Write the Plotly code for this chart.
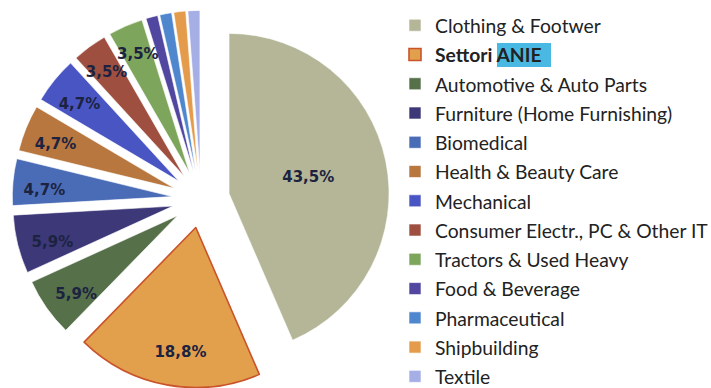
import plotly.graph_objects as go

# Sector shares (%) in slice order, clockwise from 12 o'clock
labels = [
    "Clothing & Footwer",
    "Settori ANIE",
    "Automotive & Auto Parts",
    "Furniture (Home Furnishing)",
    "Biomedical",
    "Health & Beauty Care",
    "Mechanical",
    "Consumer Electr., PC & Other IT",
    "Tractors & Used Heavy",
    "Food & Beverage",
    "Pharmaceutical",
    "Shipbuilding",
    "Textile",
]
values = [43.5, 18.8, 5.9, 5.9, 4.7, 4.7, 4.7, 3.5, 3.5, 1.2, 1.2, 1.2, 1.2]

colors = [
    "#b4b697", "#e3a04c", "#56704a", "#3d3878", "#4a6cb6", "#b8773e",
    "#4a55c4", "#9e4f40", "#7ea55c", "#5146a0", "#4f87cf", "#e49c4c", "#a6aee6",
]

W, H = 711, 388
ANIE = 1                # highlighted slice index

pct_text = [f"{v:.1f}%".replace(".", ",") for v in values]
clear = ["rgba(0,0,0,0)"] * len(values)
label_font = dict(family="DejaVu Sans", size=15, color="#1c2340", weight="bold")


def domain_for(cx, cy, radius, max_pull):
    """Domain box (paper units) of a pie centred at (cx, cy) px with given radius."""
    ext = radius * (1 + max_pull)
    return dict(
        x=[max(0, (cx - ext - 10) / W), (cx + ext + 10) / W],
        y=[max(0, 1 - (cy + ext) / H), min(1, 1 - (cy - ext) / H)],
    )


def pie(cx, cy, radius, pulls, text, marker_colors, line_colors, line_widths, **kw):
    return go.Pie(
        labels=labels, values=values, text=text, textinfo="text",
        textposition="inside", insidetextorientation="horizontal",
        textfont=label_font, sort=False, direction="clockwise", rotation=0,
        pull=pulls,
        marker=dict(colors=marker_colors, line=dict(color=line_colors, width=line_widths)),
        domain=domain_for(cx, cy, radius, max(pulls)), **kw,
    )


# visible pie; carries the label of the large slice
R = 160.0
main_pull = [0.179, 0.18] + [0.18] * (len(values) - 2)
main_text = [pct_text[0]] + [""] * (len(values) - 1)
main_lines = ["#ffffff"] * len(values)
main_lines[ANIE] = "#c9532a"
main_widths = [0.6] * len(values)
main_widths[ANIE] = 1.6
main = pie(201.0, 199.2, R, main_pull, main_text, colors, main_lines, main_widths,
           hoverinfo="label+percent")

# transparent pie: labels of the narrow slices
R2 = 150.0
narrow_text = [t if 2 < v < 10 else "" for t, v in zip(pct_text, values)]
narrow = pie(203.5, 204.5, R2, [29.0 / R2] * len(values), narrow_text, clear, clear, 0,
             hoverinfo="skip", showlegend=False)

# transparent pie: label of the highlighted slice, set further out
R3 = 94.5
anie_pull = [0.0] * len(values)
anie_pull[ANIE] = 1.0
anie_text = [""] * len(values)
anie_text[ANIE] = pct_text[ANIE]
anie = pie(208.5, 199.5, R3, anie_pull, anie_text, clear, clear, 0,
           hoverinfo="skip", showlegend=False)

# legend entries (text sized independently of the row pitch)
legend_names = []
for name in labels:
    inner = f"<b>{name}</b>" if name == "Settori ANIE" else name
    legend_names.append(f'<span style="font-size:19.3px">{inner}</span>')
for tr in (main, narrow, anie):
    tr.labels = legend_names

fig = go.Figure([main, narrow, anie])

fig.update_layout(
    width=W,
    height=H,
    margin=dict(l=0, r=0, t=0, b=0, autoexpand=False),
    paper_bgcolor="white",
    plot_bgcolor="white",
    uniformtext=dict(minsize=15, mode="show"),
    legend=dict(
        x=395 / W,
        xanchor="left",
        y=1 - 5.6 / H,
        yanchor="top",
        maxheight=600,
        font=dict(family="Lato", size=20.2, color="#222222"),
        bgcolor="rgba(0,0,0,0)",
    ),
    shapes=[
        # highlight band behind "ANIE" in the legend
        dict(
            type="rect", xref="paper", yref="paper",
            x0=497 / W, x1=551 / W, y0=1 - 67 / H, y1=1 - 43 / H,
            fillcolor="#49b8e3", line=dict(width=0), layer="below",
        )
    ],
)

fig.write_html("out.html")
